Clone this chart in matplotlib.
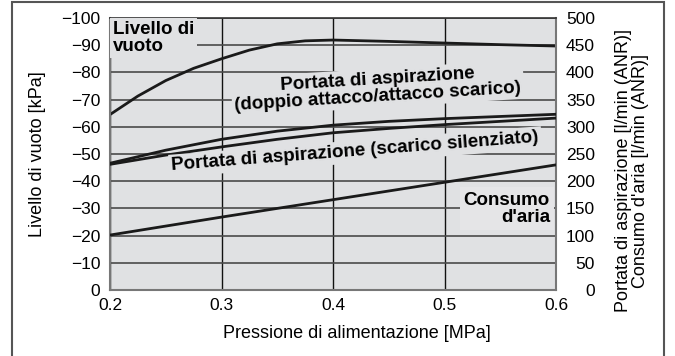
import numpy as np
import matplotlib
matplotlib.use("Agg")
import matplotlib.pyplot as plt
from matplotlib.patches import Rectangle

plt.rcParams['font.family'] = ['Liberation Sans', 'DejaVu Sans']

# vacuum level [kPa] vs supply pressure [MPa]
p_vac = [0.2, 0.225, 0.25, 0.275, 0.3, 0.325, 0.35, 0.375, 0.4, 0.45, 0.5, 0.55, 0.6]
vacuum = [-64.5, -71.3, -77.0, -81.5, -85.0, -88.2, -90.5, -91.6, -91.9, -91.4, -90.8, -90.2, -89.7]

# suction flow [l/min (ANR)]
p_flow = [0.2, 0.25, 0.3, 0.35, 0.4, 0.45, 0.5, 0.55, 0.6]
flow_double = [233, 257, 277, 292, 303, 310, 315, 319, 323]
flow_silenced = [231, 248, 263, 277, 289, 297, 304, 310, 316]

# air consumption [l/min (ANR)]
p_air = [0.2, 0.3, 0.4, 0.5, 0.6]
air_cons = [101, 134, 166, 198, 230]

x_ticks = [0.2, 0.3, 0.4, 0.5, 0.6]
y_left_ticks = [0, -10, -20, -30, -40, -50, -60, -70, -80, -90, -100]
y_right_ticks = [0, 50, 100, 150, 200, 250, 300, 350, 400, 450, 500]

bg = '#e0e1e3'
fs = 12.5
fs_lab = 13
fs_b = 13.5

fig = plt.figure(figsize=(6.75, 3.56), dpi=100)
ax = fig.add_axes([110/675, 66/356, 446/675, 272/356])
ax.set_facecolor(bg)
ax.set_xlim(0.2, 0.6)
ax.set_ylim(0, -100)
ax.set_xticks(x_ticks)
ax.set_xticklabels(['0.2', '0.3', '0.4', '0.5', '0.6'])
ax.set_yticks(y_left_ticks)
ax.set_yticklabels([str(v).replace('-', '\u2212') for v in y_left_ticks])
ax.tick_params(axis='y', length=0, pad=7, labelsize=fs)
ax.tick_params(axis='x', length=0, pad=6, labelsize=fs)
ax.set_axisbelow(True)
ax.grid(axis='y', color='#4a4a4a', lw=1.2)
ax.grid(axis='x', color='#111111', lw=1.0)
for s in ['left', 'bottom', 'right']:
    ax.spines[s].set_color('#777777')
    ax.spines[s].set_linewidth(1.5)
ax.spines['top'].set_color('#333333')
ax.spines['top'].set_linewidth(1.2)

ax.plot(p_vac, vacuum, color='#1a1a1a', lw=2)

ax2 = ax.twinx()
ax2.set_ylim(0, 500)
ax2.set_yticks(y_right_ticks)
ax2.tick_params(axis='y', length=0, pad=28, labelsize=fs)
for lab in ax2.get_yticklabels():
    lab.set_horizontalalignment('right')
for s in ax2.spines.values():
    s.set_visible(False)

ax2.plot(p_flow, flow_double, color='#1a1a1a', lw=2)
ax2.plot(p_flow, flow_silenced, color='#1a1a1a', lw=2)
ax2.plot(p_air, air_cons, color='#1a1a1a', lw=2)

box = dict(facecolor=bg, edgecolor='none', pad=2)
ax2.text(0.2027, 495, 'Livello di\nvuoto', ha='left', va='top', fontsize=fs_b,
         fontweight='bold', linespacing=1.0, bbox=box, zorder=3)
ax2.text(0.44, 371, 'Portata di aspirazione\n(doppio attacco/attacco scarico)',
         ha='center', va='center', rotation=3.5, rotation_mode='anchor',
         fontsize=fs_b, fontweight='bold', linespacing=0.95, bbox=box, zorder=3)
ax2.text(0.42, 254, 'Portata di aspirazione (scarico silenziato)',
         ha='center', va='center', rotation=4.4, rotation_mode='anchor',
         fontsize=fs_b, fontweight='bold', bbox=box, zorder=3)
ax2.text(0.5946, 149, 'Consumo\nd\'aria', ha='right', va='center',
         multialignment='right', fontsize=fs_b, fontweight='bold',
         linespacing=1.05, bbox=dict(facecolor='#e5e5e7', edgecolor='none', pad=3), zorder=3)

fig.text(38/675, 1 - 154/356, 'Livello di vuoto [kPa]', rotation=90,
         ha='center', va='center', fontsize=fs_lab)
fig.text(357/675, 1 - 334/356, 'Pressione di alimentazione [MPa]',
         ha='center', va='center', fontsize=fs_lab)
fig.text(632/675, 1 - 171/356,
         'Portata di aspirazione [l/min (ANR)]\nConsumo d\'aria [l/min (ANR)]',
         rotation=90, ha='center', va='center', multialignment='center',
         fontsize=fs_lab, linespacing=1.0)

# outer frame
fig.patches.append(Rectangle((12/675, -0.1), 652/675, 1.1 - 2/356,
                             transform=fig.transFigure, fill=False,
                             edgecolor='#555555', lw=1.5))

fig.savefig('out.png', dpi=100)
